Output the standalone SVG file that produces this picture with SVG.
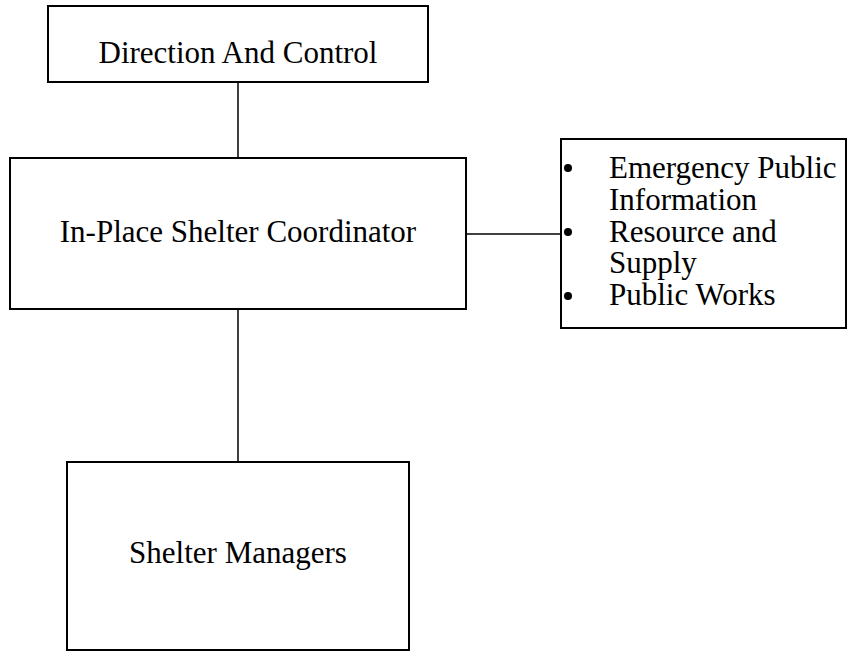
<svg xmlns="http://www.w3.org/2000/svg" width="857" height="651" viewBox="0 0 857 651">
  <style>
    .box { fill: #ffffff; stroke: #000000; stroke-width: 2; }
    .link { stroke: #000000; stroke-width: 1.5; fill: none; }
    .label { font-family: "Liberation Serif", "Times New Roman", serif; font-size: 31px; fill: #000000; }
    .mid { text-anchor: middle; }
  </style>
  <rect width="857" height="651" fill="#ffffff"/>

  <!-- connectors -->
  <g id="connectors">
    <line class="link" x1="238" y1="82" x2="238" y2="158"/>
    <line class="link" x1="238" y1="309" x2="238" y2="462"/>
    <line class="link" x1="466" y1="234" x2="561" y2="234"/>
  </g>

  <g id="direction-and-control">
    <rect class="box" x="48" y="6" width="380" height="76"/>
    <text class="label mid" x="238" y="63">Direction And Control</text>
  </g>

  <g id="in-place-shelter-coordinator">
    <rect class="box" x="10" y="158" width="456" height="151"/>
    <text class="label mid" x="238" y="242">In-Place Shelter Coordinator</text>
  </g>

  <g id="support-functions">
    <rect class="box" x="561" y="139" width="285" height="189"/>
    <circle cx="568" cy="168" r="4"/>
    <circle cx="568" cy="232" r="4"/>
    <circle cx="568" cy="296" r="4"/>
    <text class="label" x="609" y="178">Emergency Public</text>
    <text class="label" x="609" y="210">Information</text>
    <text class="label" x="609" y="242">Resource and</text>
    <text class="label" x="609" y="273">Supply</text>
    <text class="label" x="609" y="305">Public Works</text>
  </g>

  <g id="shelter-managers">
    <rect class="box" x="67" y="462" width="342" height="188"/>
    <text class="label mid" x="238" y="563">Shelter Managers</text>
  </g>
</svg>
